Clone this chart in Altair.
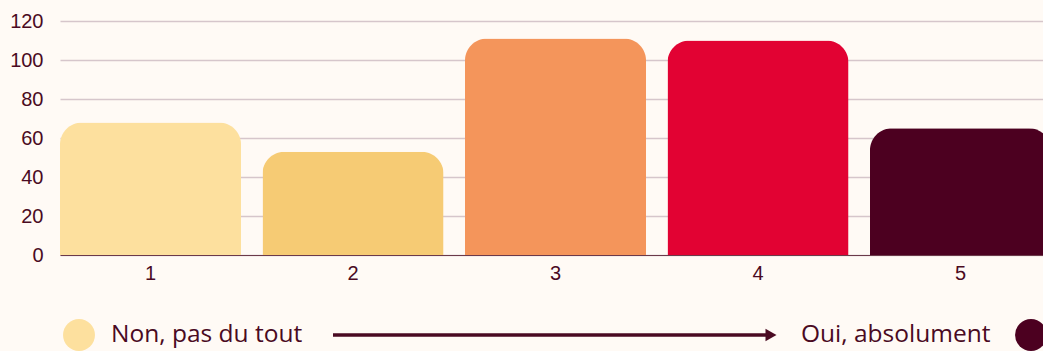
import altair as alt
import pandas as pd

categories = ["1", "2", "3", "4", "5"]
values = [68, 53, 111, 110, 65]
colors = ["#fde09e", "#f6cb74", "#f4955b", "#e20233", "#4c0020"]
legend_left = "Non, pas du tout"
legend_right = "Oui, absolument"

df = pd.DataFrame({"cat": categories, "val": values, "col": colors})
TXT = "#4a0a22"
BG = "#fffaf5"

bars = alt.Chart(df).mark_bar(
    cornerRadiusTopLeft=22, cornerRadiusTopRight=22
).encode(
    x=alt.X("cat:N", sort=categories,
            scale=alt.Scale(range=[0, 991], paddingInner=0.106, paddingOuter=0),
            axis=alt.Axis(title=None, labelAngle=0, ticks=False, domain=True,
                          domainColor="#6b3a4a", domainWidth=1, labelPadding=8,
                          labelFont="Liberation Sans", labelFontSize=20, labelColor=TXT,
                          grid=False)),
    y=alt.Y("val:Q", scale=alt.Scale(domain=[0, 120]),
            axis=alt.Axis(title=None, values=[0, 20, 40, 60, 80, 100, 120],
                          ticks=False, domain=False, labelPadding=17,
                          labelFont="Liberation Sans", labelFontSize=20, labelColor=TXT,
                          grid=True, gridColor="#d6c6cb", gridWidth=1.5)),
    color=alt.Color("col:N", scale=None, legend=None),
)

one = pd.DataFrame({"a": [0]})
left_dot = alt.Chart(one).mark_point(filled=True, opacity=1, size=1018, color=colors[0]).encode(
    x=alt.value(19), y=alt.value(314))
right_dot = alt.Chart(one).mark_point(filled=True, opacity=1, size=1018, color=colors[4]).encode(
    x=alt.value(971), y=alt.value(314))
left_txt = alt.Chart(pd.DataFrame({"t": [legend_left]})).mark_text(
    align="left", baseline="middle", font="Open Sans", fontSize=24.5, color=TXT
).encode(x=alt.value(51), y=alt.value(314), text="t:N")
right_txt = alt.Chart(pd.DataFrame({"t": [legend_right]})).mark_text(
    align="left", baseline="middle", font="Open Sans", fontSize=24.5, color=TXT
).encode(x=alt.value(741), y=alt.value(314), text="t:N")
arrow_line = alt.Chart(one).mark_rule(color=TXT, strokeWidth=3.5).encode(
    x=alt.value(273), x2=alt.value(708), y=alt.value(314))
arrow_head = alt.Chart(one).mark_point(filled=True, opacity=1, shape="triangle-right",
                                       size=160, color=TXT).encode(
    x=alt.value(711), y=alt.value(314))

chart = alt.layer(bars, arrow_line, arrow_head, left_dot, right_dot, left_txt, right_txt).properties(
    width=983, height=234,
    background=BG,
    padding={"left": 60, "top": 21, "right": 0, "bottom": 96},
    autosize=alt.AutoSizeParams(type="none"),
).configure_view(stroke=None)

chart.save("out.html", embed_options={"renderer": "svg", "actions": False})
